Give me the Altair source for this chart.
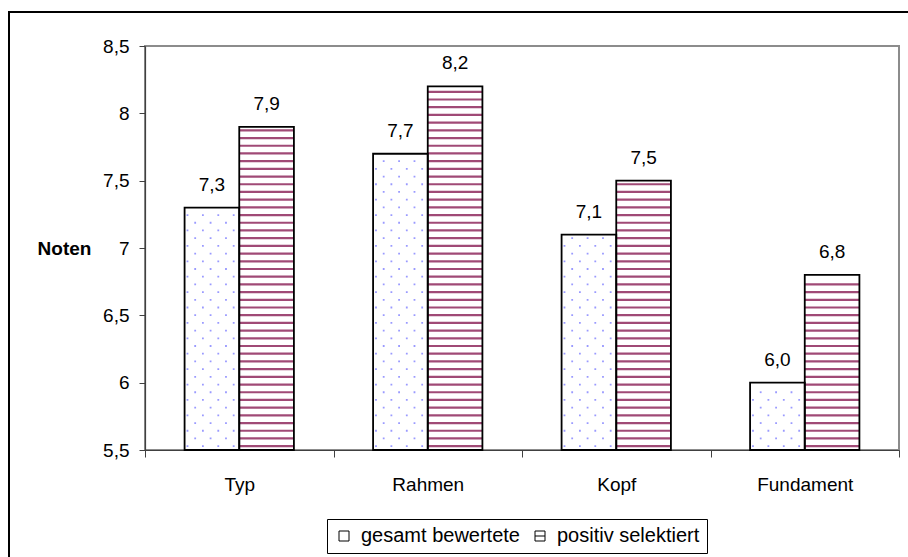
import json
import altair as alt
import pandas as pd

# Mean marks per criterion: all rated animals vs. positively selected ones
categories = ["Typ", "Rahmen", "Kopf", "Fundament"]
gesamt = [7.3, 7.7, 7.1, 6.0]
positiv = [7.9, 8.2, 7.5, 6.8]
series_names = ["gesamt bewertete", "positiv selektiert"]
y_ticks = [5.5, 6, 6.5, 7, 7.5, 8, 8.5]

rows = []
for i, c in enumerate(categories):
    rows.append({"cat": c, "idx": i, "series": series_names[0], "side": -1, "value": gesamt[i]})
    rows.append({"cat": c, "idx": i, "series": series_names[1], "side": 0, "value": positiv[i]})
df = pd.DataFrame(rows)

FONT = "Liberation Sans"
FS = 19
W, H = 754, 404
BAR = 0.29      # bar width as a share of one category slot
STEP = 0.0572   # fill pattern pitch in value units
Y0 = 5.5

xscale = alt.Scale(domain=[0, len(categories)], nice=False, zero=False)
yscale = alt.Scale(domain=[Y0, 8.5], nice=False, zero=False)

cat_js = json.dumps(categories)
x_axis = alt.Axis(
    values=[v / 2 for v in range(0, 2 * len(categories) + 1)],
    labelExpr=f"datum.value % 1 === 0.5 ? {cat_js}[floor(datum.value)] : ''",
    tickOpacity={"condition": {"test": "datum.value % 1 === 0", "value": 1}, "value": 0},
    tickSize=7, tickColor="#404040", domainColor="#404040", domainWidth=1.2,
    labelPadding=18, labelFont=FONT, labelFontSize=FS, labelColor="black",
    grid=False, title=None,
)
y_axis = alt.Axis(
    values=y_ticks,
    labelExpr="replace(toString(datum.value), '.', ',')",
    tickSize=6, tickColor="#404040", domainColor="#404040", domainWidth=1.2,
    labelPadding=10, labelFont=FONT, labelFontSize=FS, labelColor="black",
    grid=False, title="Noten", titleAngle=0, titleFont=FONT, titleFontSize=FS,
    titleFontWeight="bold", titleAlign="center", titleBaseline="middle",
    titleX=-81, titleY=202,
)

base = alt.Chart(df).transform_calculate(
    x0=f"datum.idx + 0.5 + datum.side * {BAR}",
    x1=f"datum.idx + 0.5 + (datum.side + 1) * {BAR}",
    xm=f"datum.idx + 0.5 + (datum.side + 0.5) * {BAR}",
    label="replace(format(datum.value, '.1f'), '.', ',')",
)

sq = "M-1,-1H1V1H-1Z"
sq_line = "M-1,-1H1V1H-1Z M-1,0H1"

# legend carrier, placed low inside the bars so the white fill hides it
legend_layer = base.transform_calculate(yl=f"{Y0} + 0.2").mark_point(
    filled=True, strokeWidth=1, size=100, opacity=1
).encode(
    x=alt.X("xm:Q", scale=xscale, axis=x_axis),
    y=alt.Y("yl:Q", scale=yscale, axis=y_axis),
    shape=alt.Shape(
        "series:N",
        scale=alt.Scale(domain=series_names, range=[sq, sq_line]),
        legend=alt.Legend(
            title=None, orient="none", direction="horizontal",
            legendX=182, legendY=473,
            strokeColor="black", fillColor="white", padding=7,
            symbolSize=100, symbolStrokeWidth=1,
            labelFont=FONT, labelFontSize=20,
            labelColor="black", labelOffset=7, columnPadding=10,
        ),
    ),
    fill=alt.Fill("series:N", scale=alt.Scale(domain=series_names, range=["white", "white"]), legend=None),
    stroke=alt.Stroke("series:N", scale=alt.Scale(domain=series_names, range=["black", "black"]), legend=None),
)

white_bars = base.mark_bar(fill="white", strokeWidth=0).encode(
    x="x0:Q", x2="x1:Q", y="value:Q", y2=alt.datum(Y0),
)

stripes = (
    base.transform_filter("datum.side === 0")
    .transform_calculate(k=f"sequence(0, floor((datum.value - {Y0}) / {STEP} + 0.2))")
    .transform_flatten(["k"])
    .transform_calculate(ys=f"{Y0} + (datum.k + 0.5) * {STEP}")
    .mark_rule(color="#a04a76", strokeWidth=2.2)
    .encode(x="x0:Q", x2="x1:Q", y="ys:Q")
)

dot_rows = (
    base.transform_filter("datum.side === -1")
    .transform_calculate(k=f"sequence(0, floor((datum.value - {Y0}) / {STEP} + 0.2))")
    .transform_flatten(["k"])
    .transform_calculate(ys=f"{Y0} + (datum.k + 0.5) * {STEP}")
)
dots_a = dot_rows.transform_filter("datum.k % 2 === 0").mark_rule(
    color="#9a9aff", strokeWidth=1.8, strokeDash=[1.8, 13.6], strokeDashOffset=-2
).encode(x="x0:Q", x2="x1:Q", y="ys:Q")
dots_b = dot_rows.transform_filter("datum.k % 2 === 1").mark_rule(
    color="#9a9aff", strokeWidth=1.8, strokeDash=[1.8, 13.6], strokeDashOffset=-9.7
).encode(x="x0:Q", x2="x1:Q", y="ys:Q")

outlines = base.mark_bar(fillOpacity=0, stroke="black", strokeWidth=1.8).encode(
    x="x0:Q", x2="x1:Q", y="value:Q", y2=alt.datum(Y0),
)

labels = base.mark_text(font=FONT, fontSize=FS, color="black", dy=-17, baseline="alphabetic").encode(
    x="xm:Q", y="value:Q", text="label:N",
)

# outer chart frame
frame_src = alt.Chart(pd.DataFrame({"f": [0]}))
frame_left = frame_src.mark_rule(color="black", strokeWidth=2).encode(
    x=alt.value(-136), y=alt.value(-35), y2=alt.value(520)
)
frame_top = frame_src.mark_rule(color="black", strokeWidth=2).encode(
    x=alt.value(-137), x2=alt.value(780), y=alt.value(-34)
)

chart = alt.layer(
    legend_layer, white_bars, stripes, dots_a, dots_b, outlines, labels, frame_left, frame_top
).properties(
    width=W, height=H,
    autosize=alt.AutoSizeParams(type="none"),
    padding={"left": 145, "top": 46, "right": 9, "bottom": 107},
    background="white",
).configure_view(stroke="#8c8c8c", strokeWidth=2)

chart.save("out.html", embed_options={"renderer": "svg", "actions": False})
